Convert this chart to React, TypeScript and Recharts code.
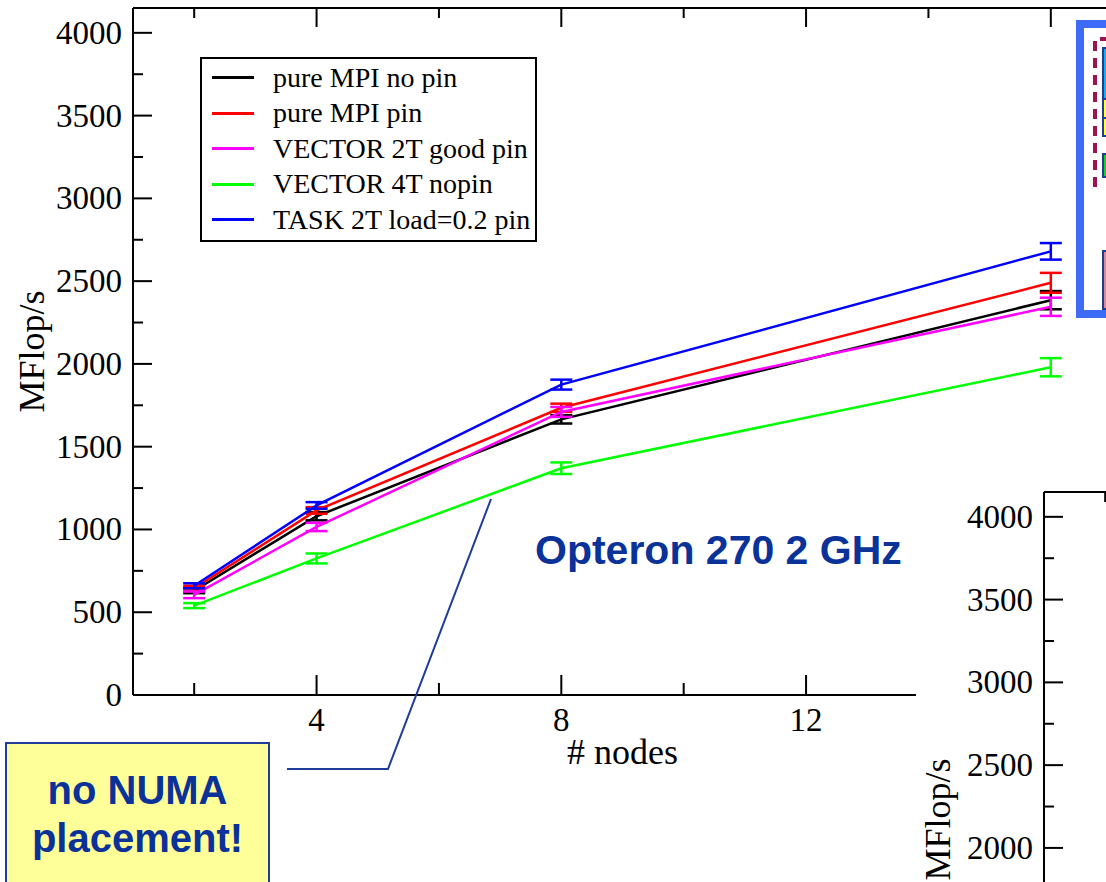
import React from "react";
import { LineChart, Line, XAxis, YAxis, ErrorBar, Legend } from "recharts";

// x positions (# nodes)
const nodes = [2, 4, 8, 16];

// MFlop/s per series, with +/- error
const pureMpiNoPin = [630, 1080, 1665, 2385];
const pureMpiNoPinErr = [15, 25, 25, 55];
const pureMpiPin = [645, 1115, 1735, 2490];
const pureMpiPinErr = [15, 20, 25, 60];
const vector2TGoodPin = [605, 1015, 1710, 2345];
const vector2TGoodPinErr = [20, 25, 30, 55];
const vector4TNopin = [540, 825, 1370, 1980];
const vector4TNopinErr = [15, 30, 35, 55];
const task2TPin = [660, 1145, 1875, 2680];
const task2TPinErr = [15, 20, 30, 50];

const xTicks = [2, 4, 6, 8, 10, 12, 14, 16];
const xLabelTicks = [4, 8, 12, 16];
const yTicks = [
  0, 250, 500, 750, 1000, 1250, 1500, 1750, 2000, 2250, 2500, 2750, 3000,
  3250, 3500, 3750, 4000,
];
// the inset chart only shows its upper part
const insetYTicks = [2000, 2250, 2500, 2750, 3000, 3250, 3500, 3750, 4000];

const series = [
  { key: "noPin", name: "pure MPI no pin", color: "#000000", values: pureMpiNoPin, errs: pureMpiNoPinErr },
  { key: "pin", name: "pure MPI pin", color: "#ff0000", values: pureMpiPin, errs: pureMpiPinErr },
  { key: "vec2", name: "VECTOR 2T good pin", color: "#ff00ff", values: vector2TGoodPin, errs: vector2TGoodPinErr },
  { key: "vec4", name: "VECTOR 4T nopin", color: "#00ff00", values: vector4TNopin, errs: vector4TNopinErr },
  { key: "task", name: "TASK 2T load=0.2 pin", color: "#0000ff", values: task2TPin, errs: task2TPinErr },
];

const table = nodes.map((n, i) => {
  const row: Record<string, number> = { nodes: n };
  series.forEach((s) => {
    row[s.key] = s.values[i];
    row[s.key + "Err"] = s.errs[i];
  });
  return row;
});

const SERIF = "'Liberation Serif', 'Times New Roman', serif";
const SANS = "'Liberation Sans', Arial, sans-serif";
const NAVY = "#0a3299";
const TICK_FONT = 33;
const TITLE_FONT = 36;
const Y_MAX = 4150;

const isMajorY = (v: number) => v % 500 === 0;
const isMajorX = (v: number) => v % 4 === 0;

function LeftTick(props: any) {
  const { x, y, payload } = props;
  const v = payload.value as number;
  const major = isMajorY(v);
  return (
    <g>
      <line x1={x} x2={x + (major ? 19 : 10)} y1={y} y2={y} stroke="#000" strokeWidth={2} />
      {major && (
        <text x={x - 11} y={y} textAnchor="end" dominantBaseline="central" fontFamily={SERIF} fontSize={TICK_FONT} fill="#000">
          {v}
        </text>
      )}
    </g>
  );
}

function RightTick(props: any) {
  const { x, y, payload } = props;
  const major = isMajorY(payload.value);
  return <line x1={x} x2={x - (major ? 19 : 10)} y1={y} y2={y} stroke="#000" strokeWidth={2} />;
}

function BottomTick(props: any) {
  const { x, y, payload } = props;
  const v = payload.value as number;
  const major = isMajorX(v);
  return (
    <g>
      <line x1={x} x2={x} y1={y} y2={y - (major ? 20 : 12)} stroke="#000" strokeWidth={2} />
      {xLabelTicks.includes(v) && (
        <text x={x} y={y + 25} textAnchor="middle" dominantBaseline="central" fontFamily={SERIF} fontSize={TICK_FONT} fill="#000">
          {v}
        </text>
      )}
    </g>
  );
}

function TopTick(props: any) {
  const { x, y, payload } = props;
  const major = isMajorX(payload.value);
  return <line x1={x} x2={x} y1={y} y2={y + (major ? 19 : 10)} stroke="#000" strokeWidth={2} />;
}

// rotated y title, shifted by dy from the axis middle
function yTitle(offsetX: number, dy: number) {
  return (props: any) => {
    const vb = props.viewBox;
    const cx = vb.x + offsetX;
    const cy = vb.y + vb.height / 2 + dy;
    return (
      <text
        x={cx}
        y={cy}
        transform={`rotate(-90, ${cx}, ${cy})`}
        textAnchor="middle"
        dominantBaseline="central"
        fontFamily={SERIF}
        fontSize={TITLE_FONT}
        fill="#000"
      >
        MFlop/s
      </text>
    );
  };
}

function LegendBox() {
  return (
    <div
      style={{
        width: 337,
        height: 185,
        boxSizing: "border-box",
        border: "2px solid #000",
        background: "#fff",
        paddingTop: 1,
        fontFamily: SERIF,
        fontSize: 28,
        color: "#000",
      }}
    >
      {series.map((s) => (
        <div key={s.key} style={{ display: "flex", alignItems: "center", height: 35.5 }}>
          <span style={{ display: "inline-block", width: 42, height: 3, background: s.color, marginLeft: 10, marginRight: 19 }} />
          <span style={{ whiteSpace: "nowrap" }}>{s.name}</span>
        </div>
      ))}
    </div>
  );
}

const axisLine = { stroke: "#000", strokeWidth: 2 };

export default function App() {
  return (
    <div style={{ position: "fixed", left: 0, top: 0, width: 1106, height: 882, overflow: "hidden", background: "#fff" }}>
      {/* main chart */}
      <div style={{ position: "absolute", left: 0, top: 0 }}>
        <LineChart width={1132} height={882} data={table} margin={{ top: 0, right: 0, left: 0, bottom: 0 }}>
          <XAxis
            dataKey="nodes"
            type="number"
            domain={[1, 17]}
            ticks={xTicks}
            interval={0}
            tickSize={0}
            tickMargin={0}
            tickLine={false}
            tick={BottomTick}
            axisLine={axisLine}
            height={187}
            label={{ value: "# nodes", position: "insideTop", offset: 43, fontFamily: SERIF, fontSize: TITLE_FONT, fill: "#000" }}
          />
          <XAxis
            xAxisId="top"
            orientation="top"
            dataKey="nodes"
            type="number"
            domain={[1, 17]}
            ticks={xTicks}
            interval={0}
            tickSize={0}
            tickMargin={0}
            tickLine={false}
            tick={TopTick}
            axisLine={axisLine}
            height={8}
          />
          <YAxis
            type="number"
            domain={[0, Y_MAX]}
            ticks={yTicks}
            interval={0}
            tickSize={0}
            tickMargin={0}
            tickLine={false}
            tick={LeftTick}
            axisLine={axisLine}
            width={133}
            label={{ content: yTitle(32, 0) }}
          />
          <YAxis
            yAxisId="right"
            orientation="right"
            type="number"
            domain={[0, Y_MAX]}
            ticks={yTicks}
            interval={0}
            tickSize={0}
            tickMargin={0}
            tickLine={false}
            tick={RightTick}
            axisLine={axisLine}
            width={20}
          />
          <Legend
            content={LegendBox}
            layout="horizontal"
            align="center"
            verticalAlign="middle"
            wrapperStyle={{ left: 200, top: 57, width: 337, height: 185 }}
          />
          {series.map((s) => (
            <Line
              key={s.key}
              dataKey={s.key}
              name={s.name}
              stroke={s.color}
              strokeWidth={2.5}
              dot={false}
              activeDot={false}
              isAnimationActive={false}
            >
              <ErrorBar dataKey={s.key + "Err"} direction="y" width={11} stroke={s.color} strokeWidth={2.5} isAnimationActive={false} />
            </Line>
          ))}
        </LineChart>
      </div>

      {/* second, overlapping chart (bottom right) */}
      <div style={{ position: "absolute", left: 916, top: 482, width: 190, height: 400, overflow: "hidden", background: "#fff" }}>
        <LineChart width={1107} height={717} data={table} margin={{ top: 9, right: 0, left: 0, bottom: 20 }}>
          <XAxis dataKey="nodes" type="number" domain={[1, 17]} allowDataOverflow hide />
          <XAxis
            xAxisId="top"
            orientation="top"
            dataKey="nodes"
            type="number"
            domain={[1, 17]}
            allowDataOverflow
            ticks={xTicks}
            interval={0}
            tickSize={0}
            tickMargin={0}
            tickLine={false}
            tick={TopTick}
            axisLine={axisLine}
            height={1}
          />
          <YAxis
            type="number"
            domain={[0, Y_MAX]}
            allowDataOverflow
            ticks={insetYTicks}
            interval={0}
            tickSize={0}
            tickMargin={0}
            tickLine={false}
            tick={LeftTick}
            axisLine={axisLine}
            width={128}
            label={{ content: yTitle(22, -16) }}
          />
        </LineChart>
      </div>

      {/* slide overlay at top right */}
      <div style={{ position: "absolute", left: 1076, top: 20, width: 60, height: 298, boxSizing: "border-box", border: "8px solid #3d6bf5", background: "#fff" }} />
      <div style={{ position: "absolute", left: 1102, top: 47, width: 20, height: 53, boxSizing: "border-box", border: "2px solid #1b3f8f", background: "#22aaee" }} />
      <div style={{ position: "absolute", left: 1102, top: 98, width: 20, height: 21, boxSizing: "border-box", border: "2px solid #1b3f8f", background: "#ffff33" }} />
      <div style={{ position: "absolute", left: 1102, top: 117, width: 20, height: 20, boxSizing: "border-box", border: "2px solid #1b3f8f", background: "#ffff33" }} />
      <div style={{ position: "absolute", left: 1102, top: 153, width: 20, height: 25, boxSizing: "border-box", border: "2px solid #1b3f8f", background: "#22cc22" }} />
      <div style={{ position: "absolute", left: 1102, top: 250, width: 20, height: 60, boxSizing: "border-box", border: "2px solid #1b3f8f", background: "#dd8899" }} />

      {/* annotations */}
      <div style={{ position: "absolute", left: 535, top: 528, fontFamily: SANS, fontWeight: "bold", fontSize: 41, color: NAVY, whiteSpace: "nowrap", lineHeight: "44px" }}>
        Opteron 270 2 GHz
      </div>
      <svg width={1106} height={882} style={{ position: "absolute", left: 0, top: 0, pointerEvents: "none" }}>
        <polyline points="1095,187 1095,39 1110,39" fill="none" stroke="#9b1450" strokeWidth={4} strokeDasharray="10 7" />
        <polyline points="287,769 388,769 491,499" fill="none" stroke="#1f3c99" strokeWidth={2} />
      </svg>
      <div
        style={{
          position: "absolute",
          left: 5,
          top: 742,
          width: 265,
          height: 160,
          boxSizing: "border-box",
          border: "2px solid #1f3c99",
          background: "#ffff99",
          fontFamily: SANS,
          fontWeight: "bold",
          fontSize: 40,
          color: NAVY,
          textAlign: "center",
          lineHeight: "48px",
          paddingTop: 22,
        }}
      >
        no NUMA
        <br />
        placement!
      </div>
    </div>
  );
}
